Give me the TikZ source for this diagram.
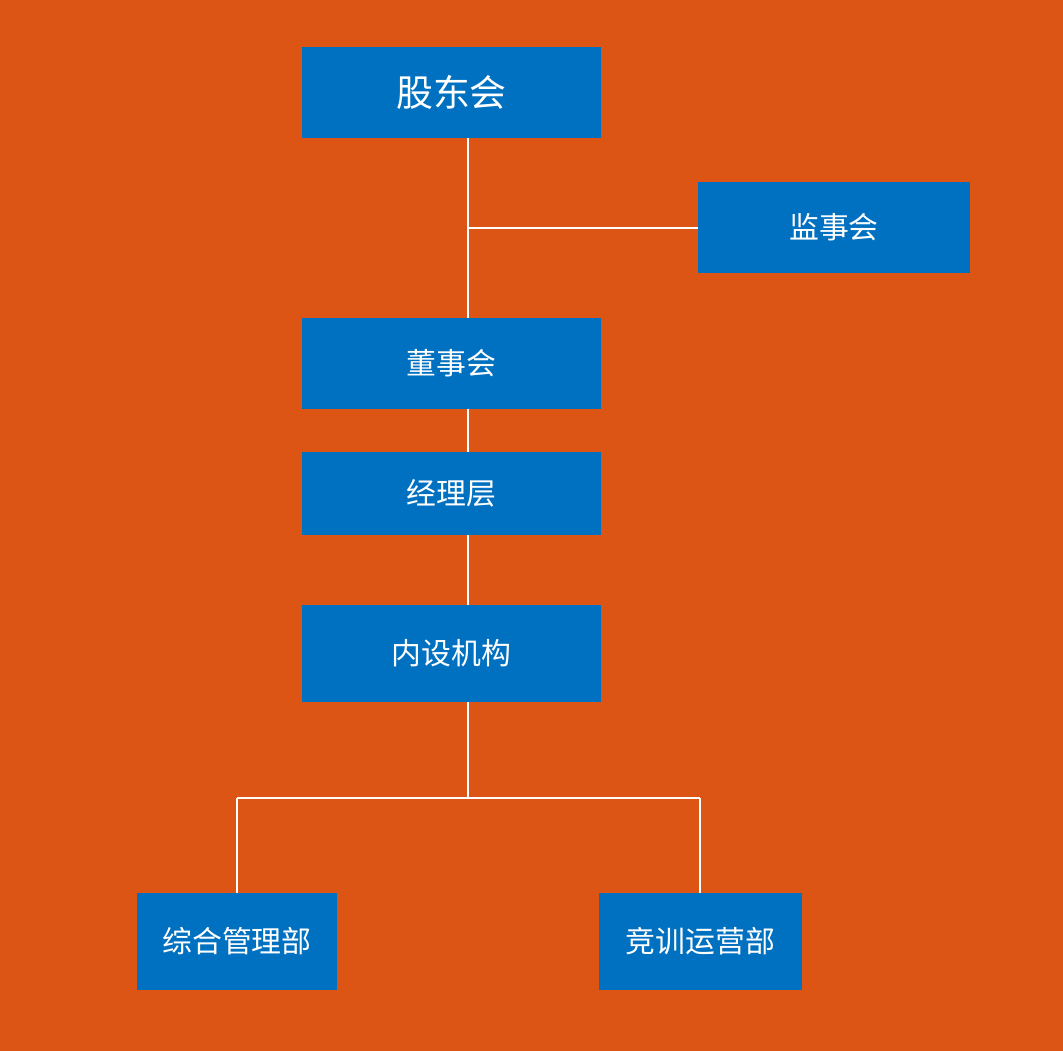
\documentclass[tikz,border=0pt]{standalone}
\usepackage{fontspec}
\newfontfamily\cjk{Noto Sans CJK SC}
\definecolor{bgorange}{RGB}{220,85,20}
\definecolor{boxblue}{RGB}{0,112,192}
\tikzset{
  box/.style={fill=boxblue, text=white, inner sep=0pt, font=\cjk\fontsize{17}{17}\selectfont},
  link/.style={draw=white, line width=1.2pt}
}
\begin{document}
\begin{tikzpicture}[x=0.02cm, y=-0.02cm]
\fill[color=bgorange] (0,0) rectangle (1063,1051);
\node[box, minimum width=299*0.02cm, minimum height=91*0.02cm, font=\cjk\fontsize{21}{21}\selectfont] (gdh) at (451.5,92.5) {股东会};
\node[box, minimum width=272*0.02cm, minimum height=91*0.02cm] (jsh) at (834,227.5) {监事会};
\node[box, minimum width=299*0.02cm, minimum height=91*0.02cm] (dsh) at (451.5,363.5) {董事会};
\node[box, minimum width=299*0.02cm, minimum height=83*0.02cm] (jlc) at (451.5,493.5) {经理层};
\node[box, minimum width=299*0.02cm, minimum height=97*0.02cm] (nsjg) at (451.5,653.5) {内设机构};
\node[box, minimum width=200*0.02cm, minimum height=97*0.02cm] (zhglb) at (237,941.5) {综合管理部};
\node[box, minimum width=203*0.02cm, minimum height=97*0.02cm] (jxyyb) at (700.5,941.5) {竞训运营部};

% junctions
\coordinate (j1) at (468,228);
\coordinate (j2) at (468,798);
\coordinate (jl) at (237,798);
\coordinate (jr) at (700,798);

\draw[link] (gdh.south -| j1) -- (dsh.north -| j1);
\draw[link] (j1) -- (jsh.west |- j1);
\draw[link] (dsh.south -| j1) -- (jlc.north -| j1);
\draw[link] (jlc.south -| j1) -- (nsjg.north -| j1);
\draw[link] (nsjg.south -| j2) -- (j2);
\draw[link] (jl) -- (jr);
\draw[link] (jl) -- (zhglb.north -| jl);
\draw[link] (jr) -- (jxyyb.north -| jr);
\end{tikzpicture}
\end{document}
